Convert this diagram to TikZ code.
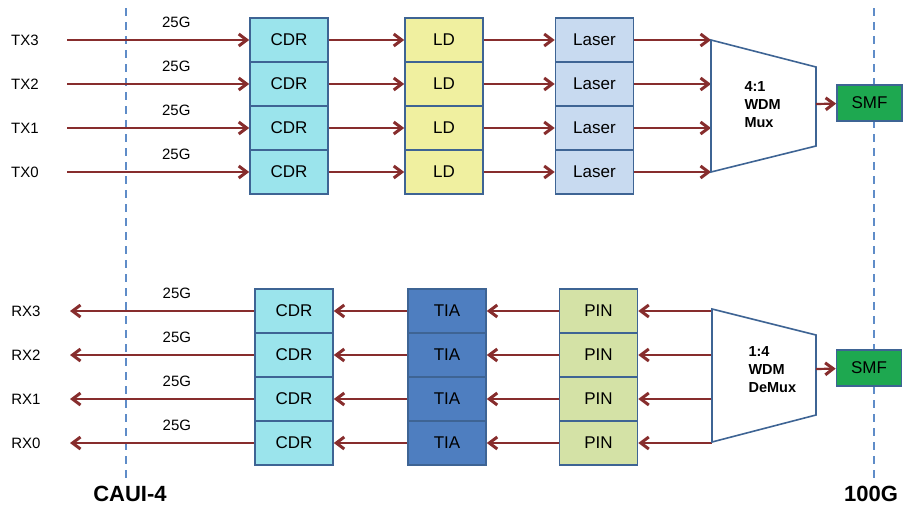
\documentclass[tikz,border=0pt]{standalone}
\usepackage{fontspec}
\setmainfont{Liberation Sans}
\usetikzlibrary{arrows.meta,positioning}

\definecolor{sigline}{RGB}{135,45,45}
\definecolor{boxedge}{RGB}{62,100,148}
\definecolor{cdrfill}{RGB}{155,228,236}
\definecolor{ldfill}{RGB}{240,240,160}
\definecolor{laserfill}{RGB}{200,218,240}
\definecolor{tiafill}{RGB}{78,126,192}
\definecolor{pinfill}{RGB}{212,226,166}
\definecolor{smffill}{RGB}{30,168,80}
\definecolor{refline}{RGB}{95,140,200}

\begin{document}
\begin{tikzpicture}[x=1pt,y=-1pt,
  >={Straight Barb[length=8pt,width=12pt,line width=3pt]},
  sig/.style={draw=sigline,line width=2.2pt,->},
  blk/.style={draw=boxedge,line width=1.6pt,minimum width=78pt,minimum height=44pt,
    inner sep=0pt,font=\fontsize{17}{20}\selectfont},
  smfbox/.style={blk,fill=smffill,minimum width=65pt,minimum height=36pt},
  lbl/.style={font=\fontsize{15}{18}\selectfont},
  rate/.style={font=\fontsize{15}{18}\selectfont,above=8pt},
  muxtext/.style={font=\fontsize{14.5}{18}\selectfont\bfseries,align=left,anchor=west},
  bigtext/.style={font=\fontsize{22}{26}\selectfont\bfseries},
  refdash/.style={draw=refline,line width=2pt,dash pattern=on 8pt off 6pt}]
  \useasboundingbox (0,0) rectangle (915,506);

  % Interface boundaries.
  \draw[refdash] (126,8) -- (126,478);
  \draw[refdash] (874,8) -- (874,478);
  \node[bigtext] (caui) at (130,494) {CAUI-4};
  \node[bigtext] (hundred) at (871,494) {100G};

  % Transmit side.
  \foreach \n/\yy in {3/40,2/84,1/128,0/172} {
    \node[lbl] (tx\n) at (25,\yy) {TX\n};
    \coordinate (txs\n) at (67,\yy);
    \node[blk,fill=cdrfill] (tcdr\n) at (289,\yy) {CDR};
    \node[blk,fill=ldfill] (tld\n) at (444,\yy) {LD};
    \node[blk,fill=laserfill] (tlas\n) at (594.5,\yy) {Laser};
    \coordinate (muxin\n) at (711,\yy);
    \draw[sig] (txs\n) -- (tcdr\n.west) node[rate,pos=0.6] {25G};
    \draw[sig] (tcdr\n) -- (tld\n);
    \draw[sig] (tld\n) -- (tlas\n);
    \draw[sig] (tlas\n) -- (muxin\n);
  }
  \draw[draw=boxedge,line width=1.6pt,fill=white]
    (711,40) -- (816,67) -- (816,146) -- (711,172) -- cycle;
  \node[muxtext] (muxtxt) at (741,105) {4:1\\WDM\\Mux};
  \coordinate (muxout) at (816,104);
  \node[smfbox] (tsmf) at (869.5,103) {SMF};
  \draw[sig] (muxout) -- (tsmf);

  % Receive side.
  \foreach \n/\yy in {3/311,2/355,1/399,0/443} {
    \node[lbl] (rx\n) at (26,\yy) {RX\n};
    \coordinate (rxe\n) at (70,\yy);
    \node[blk,fill=cdrfill] (rcdr\n) at (294,\yy) {CDR};
    \node[blk,fill=tiafill] (rtia\n) at (447,\yy) {TIA};
    \node[blk,fill=pinfill] (rpin\n) at (598.5,\yy) {PIN};
    \coordinate (dmxout\n) at (712,\yy);
    \draw[sig] (rcdr\n.west) -- (rxe\n) node[rate,pos=0.42] {25G};
    \draw[sig] (rtia\n) -- (rcdr\n);
    \draw[sig] (rpin\n) -- (rtia\n);
    \draw[sig] (dmxout\n) -- (rpin\n);
  }
  \draw[draw=boxedge,line width=1.6pt,fill=white]
    (712,309) -- (816,335) -- (816,415) -- (712,442) -- cycle;
  \node[muxtext] (dmxtxt) at (745,370) {1:4\\WDM\\DeMux};
  \coordinate (dmxin) at (816,369);
  \node[smfbox] (rsmf) at (869,368) {SMF};
  \draw[sig] (dmxin) -- (rsmf);
\end{tikzpicture}
\end{document}
